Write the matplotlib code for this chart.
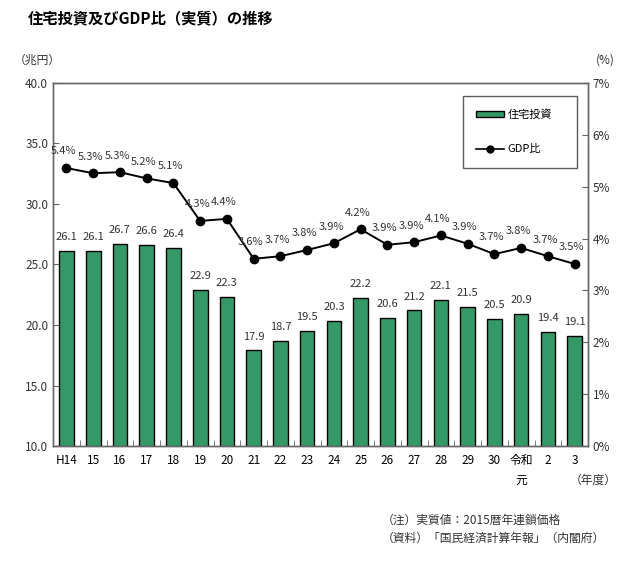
import matplotlib.pyplot as plt
from matplotlib.patches import Patch
from matplotlib.lines import Line2D

plt.rcParams['font.family'] = ['Noto Sans CJK JP', 'DejaVu Sans']

years = ['H14', '15', '16', '17', '18', '19', '20', '21', '22', '23', '24',
         '25', '26', '27', '28', '29', '30', '令和\n元', '2', '3']
investment = [26.1, 26.1, 26.7, 26.6, 26.4, 22.9, 22.3, 17.9, 18.7, 19.5, 20.3,
              22.2, 20.6, 21.2, 22.1, 21.5, 20.5, 20.9, 19.4, 19.1]
gdp_ratio = [5.36, 5.26, 5.28, 5.16, 5.07, 4.34, 4.38, 3.61, 3.66, 3.78, 3.91,
             4.18, 3.88, 3.93, 4.06, 3.90, 3.70, 3.82, 3.66, 3.51]
gdp_labels = ['5.4', '5.3', '5.3', '5.2', '5.1', '4.3', '4.4', '3.6', '3.7', '3.8',
              '3.9', '4.2', '3.9', '3.9', '4.1', '3.9', '3.7', '3.8', '3.7', '3.5']

bar_color = '#339966'
spine_color = '#666666'

fig = plt.figure(figsize=(6.42, 5.63), dpi=100)
ax = fig.add_axes([0.0826, 0.2078, 0.8333, 0.6448])
ax2 = ax.twinx()

x = list(range(len(years)))
bars = ax.bar(x, investment, width=0.55, color=bar_color, edgecolor='black',
              linewidth=1.0, zorder=2)
for xi, v in zip(x, investment):
    ax.annotate(f'{v:.1f}', (xi, v), xytext=(0, 10), textcoords='offset points',
                ha='center', va='center', fontsize=8, color='#333333')

ax2.plot(x, gdp_ratio, color='black', linewidth=1.4, marker='o', markersize=6, zorder=3)
for xi, v, lab in zip(x, gdp_ratio, gdp_labels):
    ax2.annotate(f'{lab}%', (xi, v), xytext=(-2, 12), textcoords='offset points',
                 ha='center', va='center', fontsize=8, color='#333333')

ax.set_xlim(-0.5, len(years) - 0.5)
ax.set_ylim(10, 40)
ax.set_yticks([10, 15, 20, 25, 30, 35, 40])
ax.set_yticklabels([f'{t:.1f}' for t in [10, 15, 20, 25, 30, 35, 40]])
ax2.set_ylim(0, 7)
ax2.set_yticks(range(0, 8))
ax2.set_yticklabels([f'{t}%' for t in range(0, 8)])

ax.set_xticks(x)
ax.set_xticklabels(years, fontsize=8.5, va='top', linespacing=1.6)
ax.set_xticks([i + 0.5 for i in x[:-1]], minor=True)
ax.tick_params(axis='x', which='major', length=0, pad=6)
ax.tick_params(axis='x', which='minor', direction='in', length=4, color=spine_color)
ax.tick_params(axis='y', direction='in', length=4, labelsize=8.5, color=spine_color,
               labelcolor='#333333')
ax2.tick_params(axis='y', direction='in', length=4, labelsize=8.5, color=spine_color,
                labelcolor='#333333')

for a in (ax, ax2):
    for s in a.spines.values():
        s.set_color(spine_color)
        s.set_linewidth(1.0)

handles = [Patch(facecolor=bar_color, edgecolor='black', linewidth=1.0),
           Line2D([], [], color='black', linewidth=1.2, marker='o', markersize=5)]
leg = ax2.legend(handles, ['住宅投資', 'GDP比'], loc='upper left',
                 bbox_to_anchor=(0.766, 0.766, 0.213, 0.198), mode='expand',
                 fontsize=8, frameon=True, fancybox=False, edgecolor='#333333',
                 borderpad=1.2, labelspacing=2.2, handlelength=2.5, handleheight=0.5,
                 handletextpad=0.3, borderaxespad=0)
leg.get_frame().set_linewidth(1.0)

fig.text(0.044, 0.968, '住宅投資及びGDP比（実質）の推移', fontsize=11, fontweight='bold',
         ha='left', va='center')
fig.text(0.022, 0.893, '（兆円）', fontsize=8.5, ha='left', va='center', color='#333333')
fig.text(0.943, 0.893, '(%)', fontsize=8.5, ha='center', va='center', color='#333333')
fig.text(0.924, 0.146, '（年度）', fontsize=8.5, ha='center', va='center', color='#333333')
fig.text(0.595, 0.076, '（注）実質値：2015暦年連鎖価格', fontsize=8.5, ha='left',
         va='center', color='#333333')
fig.text(0.595, 0.044, '（資料）「国民経済計算年報」（内閣府）', fontsize=8.5, ha='left',
         va='center', color='#333333')

fig.savefig('out.png', dpi=100)
